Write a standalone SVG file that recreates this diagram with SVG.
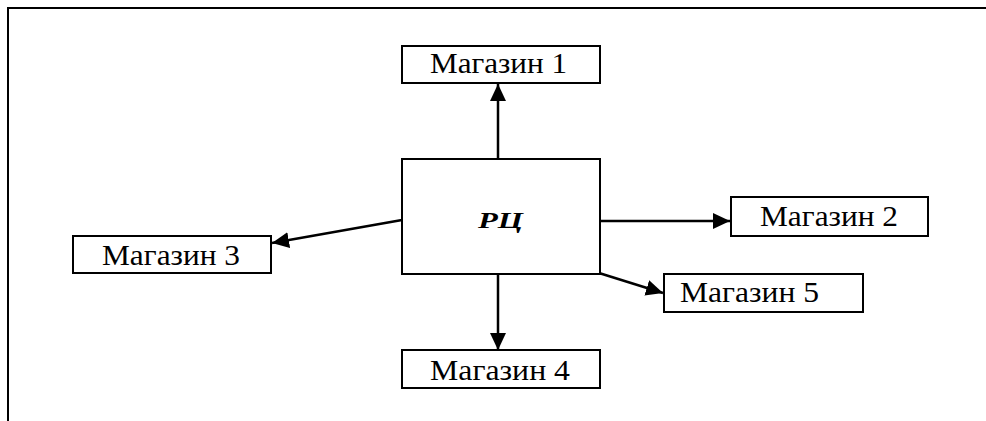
<svg xmlns="http://www.w3.org/2000/svg" width="986" height="421" viewBox="0 0 986 421">
  <style>
    .box { fill: #fff; stroke: #000; stroke-width: 2; }
    .lbl { font-family: "Liberation Serif", "Times New Roman", serif; font-size: 29px; fill: #000; }
    .hub { font-family: "Liberation Serif", "Times New Roman", serif; font-size: 24px; font-weight: bold; font-style: italic; fill: #000; }
    .edge { stroke: #000; stroke-width: 2.5; fill: none; marker-end: url(#arrow); }
    .frame { stroke: #000; stroke-width: 2; fill: none; }
  </style>
  <defs>
    <marker id="arrow" viewBox="0 0 17 16" refX="17" refY="8" markerWidth="17" markerHeight="16" markerUnits="userSpaceOnUse" orient="auto">
      <path d="M0,0 L17,8 L0,16 Z" fill="#000"/>
    </marker>
  </defs>
  <rect width="986" height="421" fill="#fff"/>

  <!-- page frame -->
  <path class="frame" d="M8,421 V8 H986"/>

  <g id="connectors">
    <line class="edge" x1="498" y1="159" x2="498" y2="84"/>
    <line class="edge" x1="600" y1="221" x2="730" y2="221"/>
    <line class="edge" x1="402" y1="220" x2="272" y2="243"/>
    <line class="edge" x1="498" y1="274" x2="498" y2="350"/>
    <line class="edge" x1="599" y1="273" x2="663" y2="293"/>
  </g>

  <g id="rc">
    <rect class="box" x="402" y="159" width="198" height="115"/>
    <text class="hub" x="478" y="228" textLength="45" lengthAdjust="spacingAndGlyphs">РЦ</text>
  </g>

  <g id="shop1">
    <rect class="box" x="402" y="46" width="198" height="37"/>
    <text class="lbl" x="430" y="73" textLength="137" lengthAdjust="spacingAndGlyphs">Магазин 1</text>
  </g>

  <g id="shop2">
    <rect class="box" x="731" y="197" width="197" height="39"/>
    <text class="lbl" x="760" y="226" textLength="138" lengthAdjust="spacingAndGlyphs">Магазин 2</text>
  </g>

  <g id="shop3">
    <rect class="box" x="73" y="236" width="198" height="37"/>
    <text class="lbl" x="102" y="265" textLength="138" lengthAdjust="spacingAndGlyphs">Магазин 3</text>
  </g>

  <g id="shop4">
    <rect class="box" x="402" y="350" width="198" height="38"/>
    <text class="lbl" x="430" y="380" textLength="140" lengthAdjust="spacingAndGlyphs">Магазин 4</text>
  </g>

  <g id="shop5">
    <rect class="box" x="664" y="274" width="199" height="38"/>
    <text class="lbl" x="680" y="302" textLength="139" lengthAdjust="spacingAndGlyphs">Магазин 5</text>
  </g>
</svg>
